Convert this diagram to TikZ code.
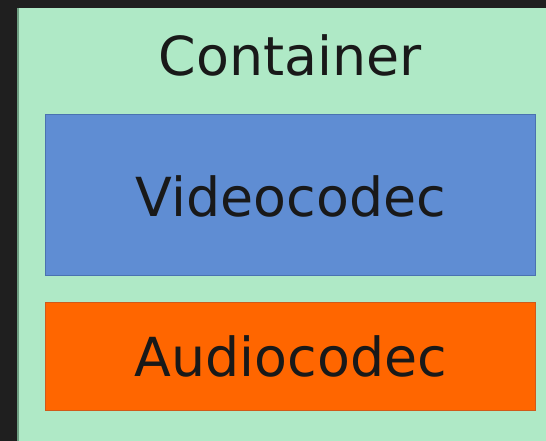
\documentclass[tikz,border=0pt]{standalone}
\usepackage{fontspec}
\setmainfont{DejaVu Sans}
\definecolor{bgdark}{HTML}{1F1F1F}
\definecolor{contgreen}{HTML}{AFE9C6}
\definecolor{contedge}{HTML}{6E9E82}
\definecolor{vidblue}{HTML}{5F8DD3}
\definecolor{videdge}{HTML}{4A72B0}
\definecolor{audorange}{HTML}{FF6600}
\definecolor{audedge}{HTML}{D05A1A}
\tikzset{
  box/.style={line width=1bp},
  lbl/.style={anchor=base, inner sep=0pt, font=\fontsize{54}{60}\selectfont, text=black!90}
}
\begin{document}
\begin{tikzpicture}[x=1bp,y=-1bp]
\useasboundingbox (0,0) rectangle (546,441);
\fill[bgdark] (0,0) rectangle (546,441);
\fill[contgreen] (17,8) rectangle (546,441);
\draw[contedge, line width=1.5bp] (17.75,8) -- (17.75,441);
\draw[box, draw=videdge, fill=vidblue] (45,115) rectangle (535,275);
\draw[box, draw=audedge, fill=audorange] (45,302) rectangle (535,410);
\node[lbl] (container) at (290,76) {Container};
\node[lbl] (video) at (291,217) {Videocodec};
\node[lbl] (audio) at (291,376) {Audiocodec};
\end{tikzpicture}
\end{document}
